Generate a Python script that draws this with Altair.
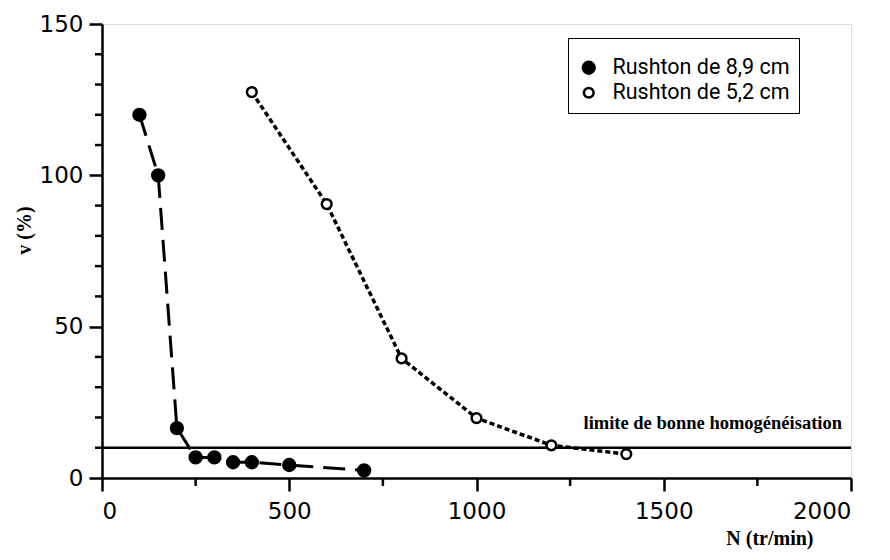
import altair as alt
import pandas as pd

# --- data ---
n_89 = [100, 150, 200, 250, 300, 350, 400, 500, 700]
v_89 = [120, 100, 16.5, 6.8, 6.8, 5.2, 5.2, 4.3, 2.5]
n_52 = [400, 600, 800, 1000, 1200, 1400]
v_52 = [127.5, 90.5, 39.5, 19.8, 10.8, 7.9]
series_names = ["Rushton de 8,9 cm", "Rushton de 5,2 cm"]
limit_value = [10]
limit_label = ["limite de bonne homogénéisation"]
x_major = [0, 500, 1000, 1500, 2000]
x_minor = [250, 750, 1250, 1750]
y_major = [0, 50, 100, 150]
y_minor = [10, 20, 30, 40, 60, 70, 80, 90, 110, 120, 130, 140]

W, H = 749, 454

df = pd.concat([
    pd.DataFrame({"N": n_89, "v": v_89, "serie": series_names[0]}),
    pd.DataFrame({"N": n_52, "v": v_52, "serie": series_names[1]}),
])

xs = alt.Scale(domain=[0, 2000], nice=False, zero=False)
ys = alt.Scale(domain=[0, 150], nice=False, zero=False)

x_axis = alt.Axis(values=x_major, format="d", title="N (tr/min)", tickSize=13, tickWidth=2.5,
                  domainWidth=2.5, domainColor="black", tickColor="black",
                  labelFont="DejaVu Sans", labelFontSize=23, labelColor="black",
                  labelPadding=9, grid=False,
                  titleFont="Liberation Serif", titleFontSize=20, titleFontWeight="bold",
                  titleColor="black", titleAlign="right", titleBaseline="top",
                  titleX=W - 38, titleY=50)
y_axis = alt.Axis(values=y_major, format="d", title="v (%)", tickSize=13, tickWidth=2.5,
                  domainWidth=2.5, domainColor="black", tickColor="black",
                  labelFont="DejaVu Sans", labelFontSize=23, labelColor="black",
                  labelPadding=6, grid=False,
                  titleFont="Liberation Serif", titleFontSize=20, titleFontWeight="bold",
                  titleColor="black", titleX=-68, titleY=206)

base = alt.Chart(df)

line89 = base.transform_filter(alt.datum.serie == series_names[0]).mark_line(
    color="black", strokeWidth=3, strokeDash=[22, 10]
).encode(x=alt.X("N:Q", scale=xs, axis=x_axis), y=alt.Y("v:Q", scale=ys, axis=y_axis))

line52 = base.transform_filter(alt.datum.serie == series_names[1]).mark_line(
    color="black", strokeWidth=3.5, strokeDash=[5, 3]
).encode(x=alt.X("N:Q", scale=xs), y=alt.Y("v:Q", scale=ys))

legend = alt.Legend(
    title="\u00a0" * 80, titleFont="DejaVu Sans Mono", titleFontSize=5, titlePadding=5,
    orient="none", legendX=466, legendY=14,
    strokeColor="black", fillColor="white", padding=9,
    labelFont="Roboto", labelFontSize=21.5, labelColor="black", labelLimit=400,
    symbolStrokeColor="black", symbolStrokeWidth=2.5, symbolOffset=1, labelOffset=13,
)

points = base.mark_point(shape="circle", filled=False, strokeWidth=2.5, opacity=1).encode(
    x=alt.X("N:Q", scale=xs),
    y=alt.Y("v:Q", scale=ys),
    fill=alt.Fill("serie:N", scale=alt.Scale(domain=series_names, range=["black", "white"]),
                  legend=legend),
    stroke=alt.Stroke("serie:N", scale=alt.Scale(domain=series_names, range=["black", "black"]),
                      legend=legend),
    size=alt.Size("serie:N", scale=alt.Scale(domain=series_names, range=[140, 95]), legend=legend),
)

limit_df = pd.DataFrame({"v": limit_value, "label": limit_label, "N": [2000]})
limit = alt.Chart(limit_df).mark_rule(color="black", strokeWidth=2.5).encode(
    y=alt.Y("v:Q", scale=ys))
limit_text = alt.Chart(limit_df).mark_text(
    align="right", baseline="alphabetic", dx=-9, dy=-19, font="Liberation Serif",
    fontWeight="bold", fontSize=18.5, color="black"
).encode(x=alt.X("N:Q", scale=xs), y=alt.Y("v:Q", scale=ys), text="label:N")

xminor = alt.Chart(pd.DataFrame({"t": x_minor})).mark_rule(color="black", strokeWidth=2.5, clip=False).encode(
    x=alt.X("t:Q", scale=xs), y=alt.value(H), y2=alt.value(H + 8))
yminor = alt.Chart(pd.DataFrame({"t": y_minor})).mark_rule(color="black", strokeWidth=2.5, clip=False).encode(
    y=alt.Y("t:Q", scale=ys), x=alt.value(-7), x2=alt.value(0))

chart = alt.layer(limit, xminor, yminor, line89, line52, points, limit_text).properties(
    width=W, height=H,
    padding={"left": 94, "top": 16, "right": 20, "bottom": 74},
    autosize=alt.AutoSizeParams(type="none"),
).configure_view(stroke="black", strokeWidth=2.5).configure_legend(
    strokeWidth=2.5, rowPadding=6
).configure(background="white")

chart.save("out.html", embed_options={"renderer": "svg", "actions": False})
